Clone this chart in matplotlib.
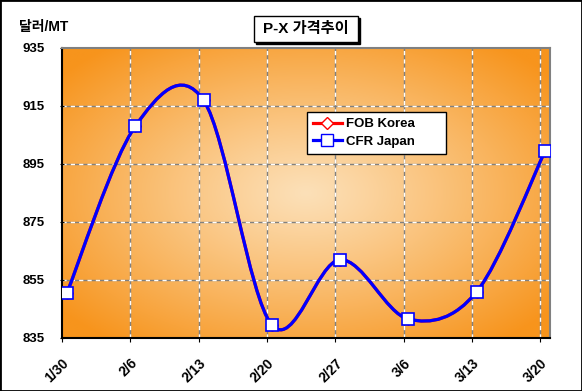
"""P-X price trend chart, Excel-style smoothed line on an orange gradient."""
import numpy as np
import matplotlib
matplotlib.use("Agg")
import matplotlib.pyplot as plt
import matplotlib.transforms as mtransforms
from matplotlib.lines import Line2D
from matplotlib.patches import PathPatch, Rectangle
from matplotlib.path import Path

plt.rcParams['font.family'] = ['Liberation Sans', 'Noto Sans CJK KR', 'DejaVu Sans']
plt.rcParams['font.weight'] = 'bold'

# data (days counted from 1/30, points sit mid-day like Excel's date axis)
tick_labels = ['1/30', '2/6', '2/13', '2/20', '2/27', '3/6', '3/13', '3/20']
tick_days = [0, 7, 14, 21, 28, 35, 42, 49]
point_days = [0.5, 7.5, 14.5, 21.5, 28.5, 35.5, 42.5, 49.5]
fob_korea = [850.5, 908, 917, 839.5, 862, 841.5, 851, 899.5]
cfr_japan = [850.5, 908, 917, 839.5, 862, 841.5, 851, 899.5]
y_ticks = [835, 855, 875, 895, 915, 935]


def smooth_path(xs, ys):
    """Catmull-Rom style bezier path, the way Excel smooths lines."""
    pts = np.column_stack([xs, ys]).astype(float)
    n = len(pts)
    verts = [pts[0]]
    codes = [Path.MOVETO]
    for i in range(n - 1):
        p0 = pts[max(i - 1, 0)]
        p1 = pts[i]
        p2 = pts[i + 1]
        p3 = pts[min(i + 2, n - 1)]
        c1 = p1 + (p2 - p0) / 6.0
        c2 = p2 - (p3 - p1) / 6.0
        verts += [c1, c2, p2]
        codes += [Path.CURVE4] * 3
    return Path(verts, codes)


fig = plt.figure(figsize=(5.82, 3.91), dpi=100)
W, H = 582, 391
ax = fig.add_axes([62 / W, 1 - 338 / H, 488 / W, 290 / H])

# radial orange gradient background
gx, gy = np.meshgrid(np.linspace(-1, 1, 300), np.linspace(-1, 1, 200))
r = np.clip(np.sqrt(gx ** 2 + gy ** 2) / 1.3, 0, 1) ** 1.1
inner = np.array([252, 224, 184]) / 255.0
outer = np.array([247, 148, 28]) / 255.0
grad = inner[None, None, :] * (1 - r[..., None]) + outer[None, None, :] * r[..., None]
ax.imshow(grad, extent=[0, 50, 835, 935], aspect='auto', zorder=0, origin='lower')

ax.set_xlim(0, 50)
ax.set_ylim(835, 935)

# grid: gray with white dashes on top
for d in tick_days[1:]:
    ax.axvline(d, color='#808080', lw=1.0, zorder=1)
    ax.axvline(d, color='white', lw=1.0, ls=(0, (3, 3)), zorder=1.1)
for v in y_ticks[1:-1]:
    ax.axhline(v, color='#808080', lw=1.0, zorder=1)
    ax.axhline(v, color='white', lw=1.0, ls=(0, (3, 3)), zorder=1.1)

# series: FOB Korea drawn first, covered by CFR Japan
ax.add_patch(PathPatch(smooth_path(point_days, fob_korea), fill=False,
                       edgecolor='red', lw=2.3, zorder=2))
ax.plot(point_days, fob_korea, ls='none', marker='D', ms=6, mfc='white',
        mec='red', mew=1.0, zorder=2.5)
ax.add_patch(PathPatch(smooth_path(point_days, cfr_japan), fill=False,
                       edgecolor='blue', lw=2.3, zorder=3))
ax.plot(point_days, cfr_japan, ls='none', marker='s', ms=8, mfc='white',
        mec='blue', mew=1.2, zorder=4)

ax.set_yticks(y_ticks)
ax.set_yticklabels([str(v) for v in y_ticks], fontsize=9.5, fontweight='bold')
ax.set_xticks(tick_days)
ax.set_xticklabels(tick_labels, fontsize=10, fontweight='bold',
                   rotation=45, ha='right', va='top', rotation_mode='anchor')
shift = mtransforms.ScaledTranslation(-4 / 100, 0, fig.dpi_scale_trans)
for lbl in ax.get_xticklabels():
    lbl.set_transform(lbl.get_transform() + shift)
ax.tick_params(axis='y', length=3, direction='inout', pad=11)
ax.tick_params(axis='x', length=3, direction='out', pad=10)
for s in ('left', 'bottom'):
    ax.spines[s].set_color('black')
    ax.spines[s].set_linewidth(1.5)
for s in ('top', 'right'):
    ax.spines[s].set_color('#808080')
    ax.spines[s].set_linewidth(1.5)

handles = [
    Line2D([], [], color='red', lw=2.3, marker='D', ms=6, mfc='white', mec='red'),
    Line2D([], [], color='blue', lw=2.3, marker='s', ms=8, mfc='white', mec='blue'),
]
leg = ax.legend(handles, ['FOB Korea', 'CFR Japan'], loc='upper left',
                bbox_to_anchor=(0.502, 0.779, 0.285, 0.0), mode='expand',
                borderaxespad=0, fancybox=False, framealpha=1,
                edgecolor='black', fontsize=9.5, handlelength=2.2,
                borderpad=0.45, labelspacing=0.4, handletextpad=0.3)
leg.get_frame().set_linewidth(1.0)
leg.set_zorder(10)

# unit label and boxed title with shadow
fig.text(19 / W, 1 - 27 / H, '달러/MT', fontsize=10, fontweight='bold',
         ha='left', va='center')
fig.add_artist(Rectangle((256 / W, 1 - 44 / H), 104 / W, 26 / H,
                         transform=fig.transFigure, facecolor='black',
                         edgecolor='black', lw=1))
fig.add_artist(Rectangle((254 / W, 1 - 42 / H), 104 / W, 26 / H,
                         transform=fig.transFigure, facecolor='white',
                         edgecolor='black', lw=1))
fig.text(306 / W, 1 - 29 / H, 'P-X 가격추이', fontsize=11, fontweight='bold',
         ha='center', va='center')

# chart area border
fig.add_artist(Rectangle((0, 0), 1, 1, transform=fig.transFigure,
                         fill=False, edgecolor='black', lw=2))

fig.savefig('out.png', dpi=100)
